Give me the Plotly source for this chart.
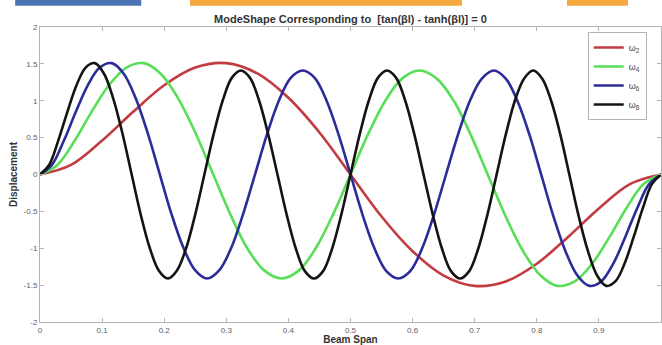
import plotly.graph_objects as go

# ---- data ----
x_w2 = [0, 0.05, 0.1, 0.15, 0.2, 0.25, 0.3, 0.35, 0.4, 0.45, 0.5,
        0.55, 0.6, 0.65, 0.7, 0.75, 0.8, 0.85, 0.9, 0.95, 1.0]
y_w2 = [0, 0.13, 0.46, 0.85, 1.21, 1.45, 1.51, 1.37, 1.04, 0.57, 0.00,
        -0.57, -1.04, -1.37, -1.51, -1.45, -1.21, -0.85, -0.46, -0.13, 0]

x_w4 = [0, 0.028, 0.056, 0.083, 0.111, 0.139, 0.167, 0.194, 0.222, 0.25,
        0.278, 0.306, 0.333, 0.361, 0.389, 0.417, 0.444, 0.472, 0.5,
        0.528, 0.556, 0.583, 0.611, 0.639, 0.667, 0.694, 0.722, 0.75,
        0.778, 0.806, 0.833, 0.861, 0.889, 0.917, 0.944, 0.972, 1.0]
y_w4 = [0, 0.13, 0.46, 0.85, 1.21, 1.45, 1.51, 1.37, 1.04, 0.57,
        0.02, -0.53, -0.99, -1.30, -1.41, -1.30, -1.00, -0.54, 0.00,
        0.54, 1.00, 1.30, 1.41, 1.30, 0.99, 0.53, -0.02, -0.57,
        -1.04, -1.37, -1.51, -1.45, -1.21, -0.85, -0.46, -0.13, 0]

x_w6 = [0, 0.0192, 0.0385, 0.0577, 0.0769, 0.0962, 0.1154, 0.1346, 0.1538,
        0.1731, 0.1923, 0.2115, 0.2308, 0.25, 0.2692, 0.2885, 0.3077,
        0.3269, 0.3462, 0.3654, 0.3846, 0.4038, 0.4231, 0.4423, 0.4615,
        0.4808, 0.5, 0.5192, 0.5385, 0.5577, 0.5769, 0.5962, 0.6154,
        0.6346, 0.6538, 0.6731, 0.6923, 0.7115, 0.7308, 0.75, 0.7692,
        0.7885, 0.8077, 0.8269, 0.8462, 0.8654, 0.8846, 0.9038, 0.9231,
        0.9423, 0.9615, 0.9808, 1.0]
y_w6 = [0, 0.13, 0.46, 0.85, 1.21, 1.45, 1.51, 1.37, 1.04,
        0.57, 0.02, -0.53, -0.99, -1.30, -1.41, -1.30, -1.00,
        -0.54, 0.00, 0.54, 1.00, 1.31, 1.41, 1.31, 1.00,
        0.54, 0.00, -0.54, -1.00, -1.31, -1.41, -1.31, -1.00,
        -0.54, 0.00, 0.54, 1.00, 1.30, 1.41, 1.30, 0.99,
        0.53, -0.02, -0.57, -1.04, -1.37, -1.51, -1.45, -1.21,
        -0.85, -0.46, -0.13, 0]

x_w8 = [0, 0.0147, 0.0294, 0.0441, 0.0588, 0.0735, 0.0882, 0.1029, 0.1176,
        0.1324, 0.1471, 0.1618, 0.1765, 0.1912, 0.2059, 0.2206, 0.2353,
        0.25, 0.2647, 0.2794, 0.2941, 0.3088, 0.3235, 0.3382, 0.3529,
        0.3676, 0.3824, 0.3971, 0.4118, 0.4265, 0.4412, 0.4559, 0.4706,
        0.4853, 0.5, 0.5147, 0.5294, 0.5441, 0.5588, 0.5735, 0.5882,
        0.6029, 0.6176, 0.6324, 0.6471, 0.6618, 0.6765, 0.6912, 0.7059,
        0.7206, 0.7353, 0.75, 0.7647, 0.7794, 0.7941, 0.8088, 0.8235,
        0.8382, 0.8529, 0.8676, 0.8824, 0.8971, 0.9118, 0.9265, 0.9412,
        0.9559, 0.9706, 0.9853, 1.0]
y_w8 = [0, 0.13, 0.46, 0.85, 1.21, 1.45, 1.51, 1.37, 1.04,
        0.57, 0.02, -0.53, -0.99, -1.30, -1.41, -1.30, -1.00,
        -0.54, 0.00, 0.54, 1.00, 1.31, 1.41, 1.31, 1.00,
        0.54, 0.00, -0.54, -1.00, -1.31, -1.41, -1.31, -1.00,
        -0.54, 0.00, 0.54, 1.00, 1.31, 1.41, 1.31, 1.00,
        0.54, 0.00, -0.54, -1.00, -1.31, -1.41, -1.31, -1.00,
        -0.54, 0.00, 0.54, 1.00, 1.30, 1.41, 1.30, 0.99,
        0.53, -0.02, -0.57, -1.04, -1.37, -1.51, -1.45, -1.21,
        -0.85, -0.46, -0.13, 0]

series_names = ["ω<sub>2</sub>", "ω<sub>4</sub>", "ω<sub>6</sub>", "ω<sub>8</sub>"]
x_ticks = [0, 0.1, 0.2, 0.3, 0.4, 0.5, 0.6, 0.7, 0.8, 0.9]
x_ticklabels = ["0", "0.1", "0.2", "0.3", "0.4", "0.5", "0.6", "0.7", "0.8", "0.9"]
y_ticks = [-2, -1.5, -1, -0.5, 0, 0.5, 1, 1.5, 2]
y_ticklabels = ["-2", "-1.5", "-1", "-0.5", "0", "0.5", "1", "1.5", "2"]

colors = ["#c23b40", "#58de58", "#2c2c98", "#141414"]

fig = go.Figure()
for xs, ys, name, c in zip([x_w2, x_w4, x_w6, x_w8], [y_w2, y_w4, y_w6, y_w8],
                           series_names, colors):
    fig.add_trace(go.Scatter(x=xs, y=ys, mode="lines", name=name,
                             line=dict(color=c, width=2.6, shape="spline", smoothing=1)))

axis_common = dict(showline=True, linecolor="#b4b4b4", linewidth=1, mirror="ticks",
                   ticks="inside", ticklen=4, tickcolor="#b4b4b4", showgrid=False,
                   zeroline=False, automargin=False,
                   tickfont=dict(family="Liberation Sans", size=8, color="#606060"))

fig.update_xaxes(range=[0, 1], tickvals=x_ticks, ticktext=x_ticklabels,
                 title=dict(text="<b>Beam Span</b>", standoff=0,
                            font=dict(family="Liberation Sans", size=10, color="#333")),
                 **axis_common)
fig.update_yaxes(range=[-2, 2], tickvals=y_ticks, ticktext=y_ticklabels,
                 title=dict(text="<b>Displacement</b>", standoff=4,
                            font=dict(family="Liberation Sans", size=10, color="#333")),
                 **axis_common)

# cropped strip of the surrounding document at the very top
strip = [(-0.040, 0.163, "#4a74b4"), (0.2415, 0.6795, "#f5a83e"), (0.8486, 0.9469, "#f5a83e")]
for x0, x1, col in strip:
    fig.add_shape(type="rect", xref="paper", yref="paper", x0=x0, x1=x1, y0=1.072, y1=1.1,
                  fillcolor=col, line=dict(width=0), layer="above")

fig.update_layout(
    width=662, height=345,
    margin=dict(l=40, r=1, t=27, b=23),
    paper_bgcolor="white", plot_bgcolor="white",
    title=dict(text="<b>ModeShape Corresponding to  [tan(βl) - tanh(βl)] = 0</b>",
               x=0.5, xref="paper", xanchor="center", y=0.945, yanchor="middle",
               font=dict(family="Liberation Sans", size=11, color="#333")),
    legend=dict(x=0.882, y=0.983, xanchor="left", yanchor="top",
                bgcolor="white", bordercolor="#b4b4b4", borderwidth=1,
                font=dict(family="Liberation Sans", size=9, color="#444"),
                itemwidth=30, tracegroupgap=2),
    showlegend=True,
)

fig.write_html("out.html", config={"displayModeBar": False},
               post_script="document.body.style.margin='0';document.body.style.overflow='hidden';")
